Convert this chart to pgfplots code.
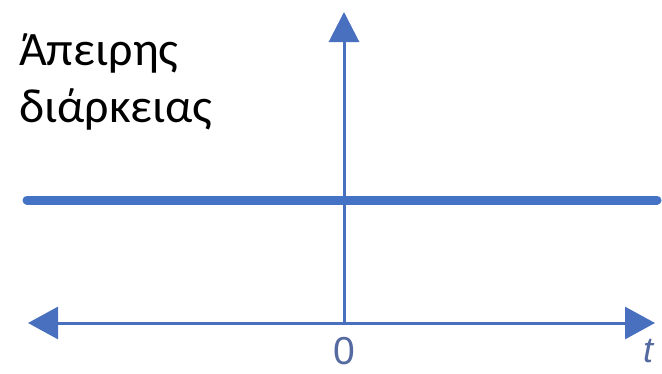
\documentclass[border=0pt]{standalone}
\usepackage{pgfplots}
\pgfplotsset{compat=1.18}
\usepackage{fontspec}
\setmainfont{Carlito}
\newfontfamily\labelfont{Liberation Sans}
\usetikzlibrary{arrows.meta}
\definecolor{sigblue}{RGB}{68,114,196}
\definecolor{axblue}{RGB}{72,112,190}
\definecolor{lblblue}{RGB}{84,106,160}

\begin{document}
\begin{tikzpicture}
\begin{axis}[
  name=ax,
  width=662pt, height=373pt, scale only axis,
  hide axis, clip=false,
  xmin=-344, xmax=318, ymin=-50, ymax=323,
]
% time axis, open at both ends
\addplot[axblue, line width=3pt, mark=none,
  {Triangle[length=30pt,width=32pt]}-{Triangle[length=30pt,width=32pt]}]
  coordinates {(-316,0) (311,0)};
% vertical axis
\addplot[axblue, line width=3pt, mark=none, -{Triangle[length=30pt,width=30pt]}]
  coordinates {(0,0) (0,311)};
% constant signal of infinite duration
\addplot[sigblue, line width=9pt, line cap=round, mark=none]
  coordinates {(-317,123) (313,123)};

\node[anchor=base west, inner sep=0, font=\fontsize{48}{57}\selectfont]
  at (axis cs:-325,258) {Άπειρης};
\node[anchor=base west, inner sep=0, font=\fontsize{48}{57}\selectfont]
  at (axis cs:-325,201) {διάρκειας};
\node[anchor=north, inner sep=0, text=lblblue, font=\labelfont\fontsize{39}{39}\selectfont]
  at (axis cs:0,-14) {0};
\node[anchor=north, inner sep=0, text=lblblue, font=\labelfont\itshape\fontsize{36}{36}\selectfont]
  at (axis cs:304,-16) {t};
\end{axis}
\pgfresetboundingbox
\path[use as bounding box] (ax.south west) rectangle (ax.north east);
\end{tikzpicture}
\end{document}
